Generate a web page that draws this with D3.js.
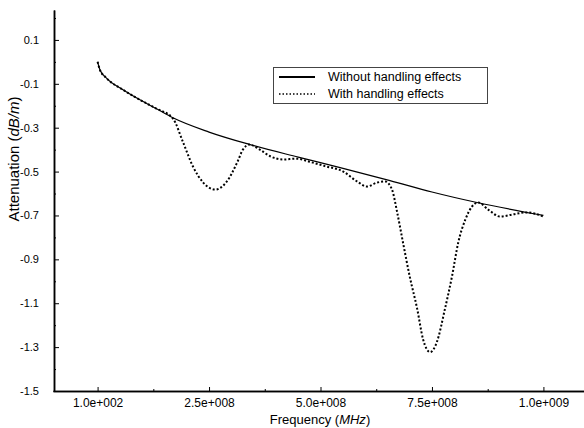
<!DOCTYPE html>
<html>
<head>
<meta charset="utf-8">
<script src="https://cdn.jsdelivr.net/npm/d3@7"></script>
<style>
  body { margin: 0; background: #fff; }
  svg { display: block; font-family: "Liberation Sans", Arial, sans-serif; }
  .axis path, .axis line { stroke: #000; }
  .axis path { stroke-width: 1.5px; }
  .axis text { fill: #000; font-family: "Liberation Sans", Arial, sans-serif; }
  .xaxis text { font-size: 12px; }
  .yaxis text { font-size: 11px; }
</style>
</head>
<body>
<svg id="chart" width="584" height="428"></svg>
<script>
// data
var freqSolid = [1e2, 5.2e6, 2.0e7, 5.7e7, 9.5e7, 1.29e8, 1.69e8, 2.5e8, 3.42e8, 4.5e8, 5.44e8, 6.56e8, 7.5e8, 8.51e8, 1.0e9];
var attSolid  = [0.0, -0.036, -0.074, -0.127, -0.173, -0.21, -0.255, -0.32, -0.377, -0.434, -0.482, -0.541, -0.593, -0.641, -0.70];

var freqDotted = [1e2, 5.2e6, 2.0e7, 5.7e7, 9.5e7, 1.29e8, 1.69e8, 1.92e8, 2.14e8, 2.37e8, 2.64e8, 2.9e8, 3.13e8, 3.26e8, 3.4e8,
                  3.64e8, 3.87e8, 4.16e8, 4.47e8, 4.75e8, 5.1e8, 5.51e8, 5.82e8, 6.04e8, 6.27e8, 6.45e8, 6.6e8, 6.72e8, 6.85e8,
                  7.0e8, 7.17e8, 7.3e8, 7.46e8, 7.61e8, 7.79e8, 7.95e8, 8.09e8, 8.25e8, 8.4e8, 8.54e8, 8.76e8, 9.03e8, 9.32e8,
                  9.63e8, 1.0e9];
var attDotted  = [0.0, -0.036, -0.074, -0.127, -0.173, -0.21, -0.258, -0.368, -0.477, -0.55, -0.582, -0.545, -0.459, -0.40, -0.377,
                  -0.40, -0.43, -0.445, -0.441, -0.455, -0.475, -0.50, -0.545, -0.568, -0.55, -0.545, -0.58, -0.686, -0.823,
                  -0.977, -1.127, -1.264, -1.323, -1.277, -1.127, -0.977, -0.823, -0.718, -0.659, -0.641, -0.673, -0.705, -0.695,
                  -0.686, -0.705];

var xTickValues = [1e2, 2.5e8, 5e8, 7.5e8, 1e9];
var xTickLabels = ["1.0e+002", "2.5e+008", "5.0e+008", "7.5e+008", "1.0e+009"];
var xMinorTicks = [1.25e8, 3.75e8, 6.25e8, 8.75e8];
var yTickValues = [0.1, -0.1, -0.3, -0.5, -0.7, -0.9, -1.1, -1.3, -1.5];
var yMinorTicks = [0.2, 0.0, -0.2, -0.4, -0.6, -0.8, -1.0, -1.2, -1.4];

var seriesNames = ["Without handling effects", "With handling effects"];

var svg = d3.select("#chart");

var x = d3.scaleLinear()
    .domain([-1e8, 1.1e9])
    .range([53, 588]);

var y = d3.scaleLinear()
    .domain([-1.5, 0.2364])
    .range([391, 10]);

// minor ticks first, then the main axes on top
svg.append("g")
    .attr("class", "axis")
    .attr("transform", "translate(0,391)")
    .call(d3.axisBottom(x).tickValues(xMinorTicks).tickSize(-2).tickSizeOuter(0).tickFormat(""));

svg.append("g")
    .attr("class", "axis")
    .attr("transform", "translate(54,0)")
    .call(d3.axisLeft(y).tickValues(yMinorTicks).tickSize(-2).tickSizeOuter(0).tickFormat(""));

svg.append("g")
    .attr("class", "axis xaxis")
    .attr("transform", "translate(0,391)")
    .call(d3.axisBottom(x)
        .tickValues(xTickValues)
        .tickSize(-4)
        .tickSizeOuter(0)
        .tickPadding(7)
        .tickFormat(function(d, i){ return xTickLabels[i]; }));

svg.append("g")
    .attr("class", "axis yaxis")
    .attr("transform", "translate(54,0)")
    .call(d3.axisLeft(y)
        .tickValues(yTickValues)
        .tickSize(-5)
        .tickSizeOuter(0)
        .tickPadding(15)
        .tickFormat(function(d){ return d.toFixed(1); }));

// axis titles
var xt = svg.append("text")
    .attr("x", 320)
    .attr("y", 424)
    .attr("text-anchor", "middle")
    .style("font-size", "13px");
xt.append("tspan").text("Frequency (");
xt.append("tspan").style("font-style", "italic").text("MHz");
xt.append("tspan").text(")");

var yt = svg.append("text")
    .attr("transform", "translate(19,159) rotate(-90)")
    .attr("text-anchor", "middle")
    .style("font-size", "15px");
yt.append("tspan").text("Attenuation (");
yt.append("tspan").style("font-style", "italic").text("dB/m");
yt.append("tspan").text(")");

// curves
var solidData = freqSolid.map(function(f, i){ return {x: f, y: attSolid[i]}; });
var dottedData = freqDotted.map(function(f, i){ return {x: f, y: attDotted[i]}; });

var line = d3.line()
    .x(function(d){ return x(d.x); })
    .y(function(d){ return y(d.y); })
    .curve(d3.curveMonotoneX);

svg.append("path")
    .datum(solidData)
    .attr("d", line)
    .style("fill", "none")
    .style("stroke", "#000")
    .style("stroke-width", "1.2px");

svg.append("path")
    .datum(dottedData)
    .attr("d", line)
    .style("fill", "none")
    .style("stroke", "#000")
    .style("stroke-width", "2px")
    .style("stroke-dasharray", "2,2");

// legend
var lg = svg.append("g");
lg.append("rect")
    .attr("x", 273.5).attr("y", 67.5)
    .attr("width", 214).attr("height", 36)
    .style("fill", "#fff")
    .style("stroke", "#444")
    .style("stroke-width", "1px");

lg.append("line")
    .attr("x1", 279).attr("x2", 315).attr("y1", 77).attr("y2", 77)
    .style("stroke", "#000").style("stroke-width", "2px");
lg.append("line")
    .attr("x1", 279).attr("x2", 315).attr("y1", 94).attr("y2", 94)
    .style("stroke", "#000").style("stroke-width", "1.5px")
    .style("stroke-dasharray", "1.5,2");

lg.selectAll("text.lab")
    .data(seriesNames)
    .enter().append("text")
    .attr("class", "lab")
    .attr("x", 328)
    .attr("y", function(d, i){ return 81 + i * 17; })
    .style("font-size", "12.5px")
    .text(function(d){ return d; });
</script>
</body>
</html>
